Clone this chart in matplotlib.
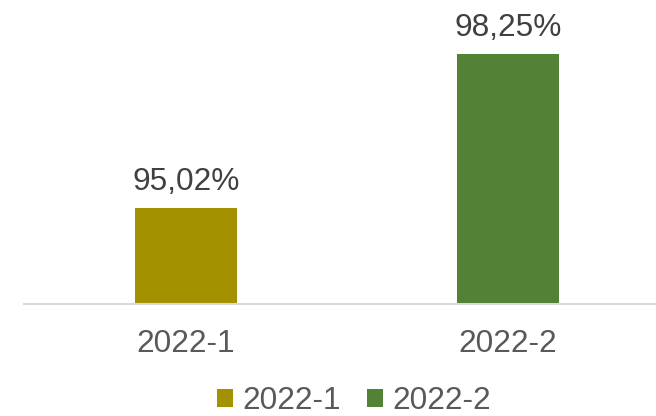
import matplotlib
matplotlib.use('Agg')
import matplotlib.pyplot as plt

categories = ['2022-1', '2022-2']
values = [95.02, 98.25]
labels = ['95,02%', '98,25%']
colors = ['#A39100', '#538135']

plt.rcParams['font.family'] = ['Liberation Sans', 'DejaVu Sans']

W, H = 656, 416
fig = plt.figure(figsize=(W / 100, H / 100), dpi=100)
ax = fig.add_axes([24 / W, 1 - 304 / H, (W - 24) / W, 304 / H])

xs = range(len(categories))
for x, v, lab, c, cat in zip(xs, values, labels, colors, categories):
    ax.bar(x, v - 93, bottom=93, width=0.317, color=c, label=cat)
    ax.annotate(lab, (x, v), xytext=(0, 13), textcoords='offset points',
                ha='center', va='baseline', fontsize=22.8, color='#404040')

ax.set_xlim(-0.503, 1.46)
ax.set_ylim(93, 93 + 304 / 47.68)
ax.set_xticks(list(xs))
ax.set_xticklabels(categories, fontsize=22.8, color='#595959')
ax.tick_params(axis='x', length=0, pad=18)
ax.set_yticks([])
for s in ['top', 'right', 'left']:
    ax.spines[s].set_visible(False)
ax.spines['bottom'].set_color('#D9D9D9')
ax.spines['bottom'].set_linewidth(1.5)

leg = fig.legend(loc='center', bbox_to_anchor=(354 / W, 1 - 401 / H), ncol=2,
                 frameon=False, fontsize=22.8, handlelength=0.5, handleheight=0.5,
                 handletextpad=0.3, columnspacing=0.82, borderpad=0)
for t in leg.get_texts():
    t.set_color('#595959')

fig.savefig('out.png', dpi=100)
